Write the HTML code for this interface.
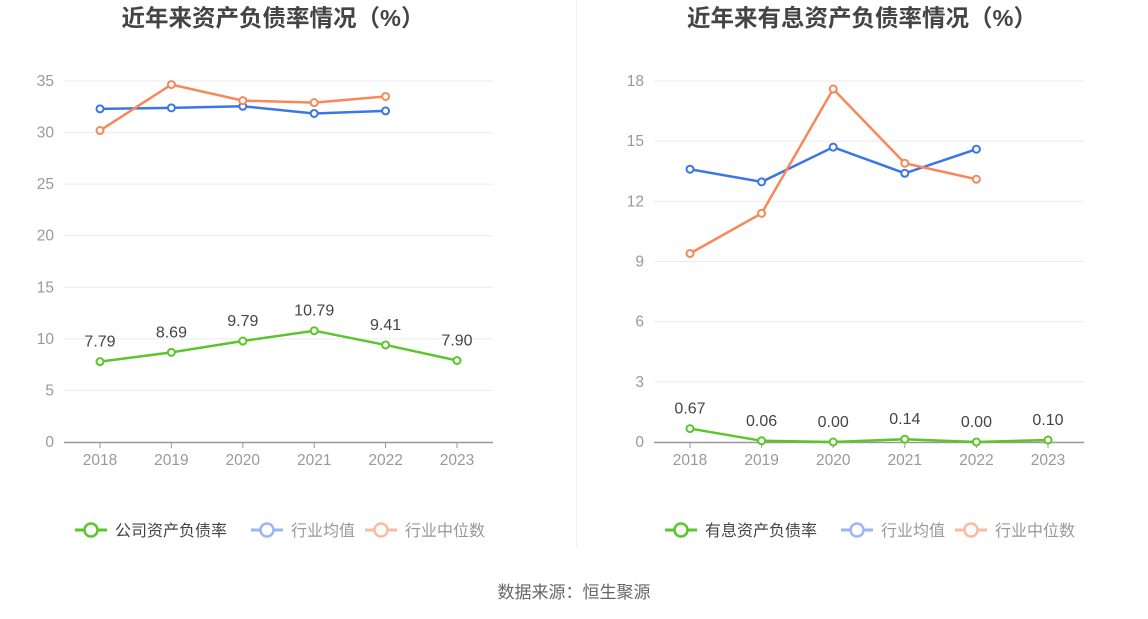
<!DOCTYPE html>
<html><head><meta charset="utf-8"><style>
html,body{margin:0;padding:0;background:#fff;}
svg{display:block;font-family:"Liberation Sans","Noto Sans CJK SC",sans-serif;}
</style></head><body>
<svg id="s" width="1148" height="619" xmlns="http://www.w3.org/2000/svg"></svg>
<script>
const s=document.getElementById('s');let h='';
h+='<line x1="576.5" y1="0" x2="576.5" y2="548" stroke="#eef0f4"/>';
function chart(o){
 const y0=442,yT=81,yr=o.max;
 const Y=v=>y0-(v/yr)*(y0-yT);
 const X=i=>o.x0+i*o.dx;
 h+=`<text x="${o.tx}" y="26" text-anchor="middle" font-size="23.5" font-weight="bold" fill="#444">${o.title}</text>`;
 o.ticks.forEach(t=>{const y=Y(t);
  if(t>0)h+=`<line x1="${o.l}" x2="${o.r}" y1="${y}" y2="${y}" stroke="#e8ebf3"/>`;
  h+=`<text x="${o.l-10}" y="${y+5}" text-anchor="end" font-size="15.5" fill="#999">${t}</text>`;});
 h+=`<line x1="${o.l}" x2="${o.r}" y1="${y0+0.5}" y2="${y0+0.5}" stroke="#999" stroke-width="1.5"/>`;
 for(let i=0;i<6;i++){h+=`<line x1="${X(i)}" x2="${X(i)}" y1="${y0}" y2="${y0+6}" stroke="#999"/>`;
  h+=`<text x="${X(i)}" y="465" text-anchor="middle" font-size="15.5" fill="#999">${2018+i}</text>`;}
 const series=(d,c)=>{h+=`<polyline fill="none" stroke="${c}" stroke-width="2.5" points="${d.map((v,i)=>X(i)+','+Y(v)).join(' ')}"/>`;
  d.forEach((v,i)=>h+=`<circle cx="${X(i)}" cy="${Y(v)}" r="3.5" fill="#fff" stroke="${c}" stroke-width="2"/>`);};
 series(o.avg,'#3a76e8');series(o.med,'#f7885a');series(o.co,'#5cc52b');
 o.co.forEach((v,i)=>h+=`<text x="${X(i)}" y="${Y(v)-15}" text-anchor="middle" font-size="16" fill="#444">${o.lab[i]}</text>`);
 const lg=o.lx;
 const item=(x,c,t,tc)=>{h+=`<line x1="${x}" x2="${x+32}" y1="530" y2="530" stroke="${c}" stroke-width="3"/><circle cx="${x+16}" cy="530" r="6.5" fill="#fff" stroke="${c}" stroke-width="2.5"/><text x="${x+40}" y="536" font-size="16" fill="${tc}">${t}</text>`;};
 item(lg,'#5cc52b',o.name,'#444');item(lg+176,'#9bb6f2','行业均值','#999');item(lg+290,'#f9bca2','行业中位数','#999');
}
chart({title:'近年来资产负债率情况（%）',tx:273,max:35,ticks:[0,5,10,15,20,25,30,35],l:64,r:493,x0:100,dx:71.4,
 avg:[32.3,32.4,32.55,31.85,32.1],med:[30.2,34.65,33.1,32.9,33.5],co:[7.79,8.69,9.79,10.79,9.41,7.90],
 lab:['7.79','8.69','9.79','10.79','9.41','7.90'],name:'公司资产负债率',lx:75});
chart({title:'近年来有息资产负债率情况（%）',tx:862,max:18,ticks:[0,3,6,9,12,15,18],l:654,r:1084,x0:690,dx:71.6,
 avg:[13.6,12.97,14.7,13.4,14.6],med:[9.4,11.4,17.6,13.9,13.1],co:[0.67,0.06,0.0,0.14,0.0,0.10],
 lab:['0.67','0.06','0.00','0.14','0.00','0.10'],name:'有息资产负债率',lx:665});
h+='<text x="574" y="598" text-anchor="middle" font-size="17" fill="#666">数据来源：恒生聚源</text>';
s.innerHTML=h;
</script>
</body></html>
